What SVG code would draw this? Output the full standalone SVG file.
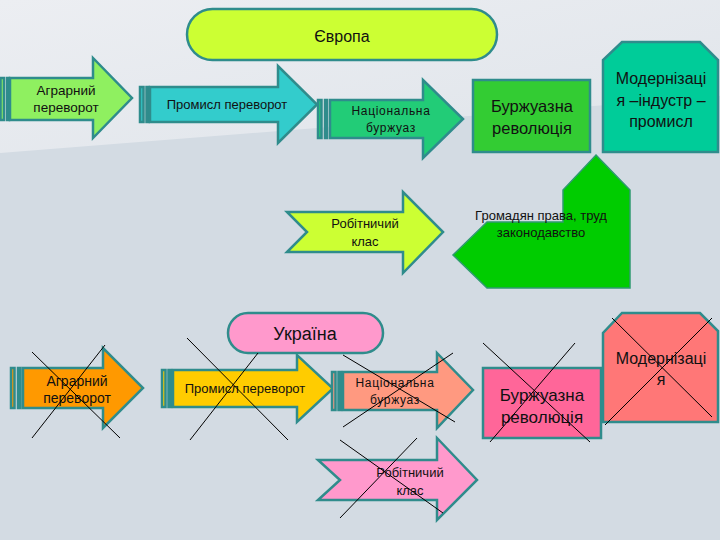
<svg xmlns="http://www.w3.org/2000/svg" width="720" height="540" viewBox="0 0 720 540">
<defs>
<linearGradient id="bgTop" x1="0" y1="0" x2="1" y2="1">
<stop offset="0" stop-color="#eceef2"/>
<stop offset="1" stop-color="#dfe4ea"/>
</linearGradient>
<style>
.sh{stroke:#2f8c8c;stroke-width:2.5;stroke-linejoin:miter}
.thin{stroke:#2f9a70;stroke-width:1.5}
.t{font-family:"Liberation Sans",Arial,sans-serif;fill:#111;text-anchor:middle}
.x line{stroke:#000;stroke-width:1}
</style>
</defs>
<rect x="0" y="0" width="720" height="540" fill="#d3dbe3"/>
<polygon points="0,0 720,0 720,96 0,153" fill="url(#bgTop)"/>

<g id="europe">
<rect class="sh" x="187" y="9" width="310" height="51" rx="25.5" fill="#ccff33"/>
<text class="t" x="342" y="42" font-size="16">Європа</text>
</g>

<g id="agr-eu">
<rect class="sh" x="0.5" y="78" width="3.5" height="42" fill="#8ff060"/>
<rect class="sh" x="7" y="78" width="2" height="42" fill="#8ff060"/>
<path class="sh" d="M10,78 H93 V58 L132,98 L93,138 V120 H10 Z" fill="#8ff060"/>
<text class="t" x="66" y="95" font-size="13.5">Аграрний</text>
<text class="t" x="66" y="112" font-size="13.5">переворот</text>
</g>

<g id="prom-eu">
<rect class="sh" x="140" y="87" width="3.5" height="35" fill="#33cccc"/>
<rect class="sh" x="146.5" y="87" width="2" height="35" fill="#33cccc"/>
<path class="sh" d="M150,87 H278 V66 L317,104.5 L278,143 V122 H150 Z" fill="#33cccc"/>
<text class="t" x="227" y="109" font-size="13">Промисл переворот</text>
</g>

<g id="nat-eu">
<rect class="sh" x="318" y="100" width="3.5" height="38" fill="#22cc77"/>
<rect class="sh" x="325" y="100" width="2" height="38" fill="#22cc77"/>
<path class="sh" d="M330,100 H423 V80 L463,119 L423,158 V138 H330 Z" fill="#22cc77"/>
<text class="t" x="391" y="115" font-size="12" letter-spacing="0.7">Національна</text>
<text class="t" x="391" y="132" font-size="12" letter-spacing="0.7">буржуаз</text>
</g>

<g id="burzh-eu">
<rect class="sh" x="473" y="80" width="117" height="72" fill="#33cc33"/>
<text class="t" x="532" y="112" font-size="16.5">Буржуазна</text>
<text class="t" x="532" y="134" font-size="16.5">революція</text>
</g>

<g id="modern-eu">
<path class="sh" d="M622,42 H700 L718,60 V152 H603 V60 Z" fill="#00cc99"/>
<text class="t" x="661" y="84" font-size="16">Модернізаці</text>
<text class="t" x="661" y="106" font-size="16">я –індустр –</text>
<text class="t" x="661" y="127" font-size="16">промисл</text>
</g>

<g id="rob-eu">
<path class="sh" d="M287,212 H403 V192 L443,232 L403,273 V252 H287 L307,232 Z" fill="#ccff33"/>
<text class="t" x="365" y="228" font-size="13">Робітничий</text>
<text class="t" x="365" y="246" font-size="13">клас</text>
</g>

<g id="rights-eu">
<path class="thin" d="M596,155 L630,190 V288 H487 L453,255 L487,222 H563 V190 Z" fill="#00cc00"/>
<text class="t" x="541" y="220" font-size="13">Громадян права, труд</text>
<text class="t" x="541" y="237" font-size="13">законодавство</text>
</g>

<g id="ukraine">
<rect class="sh" x="228" y="313" width="155" height="40" rx="20" fill="#ff99cc"/>
<text class="t" x="305" y="340" font-size="18">Україна</text>
</g>

<g id="agr-ua">
<rect class="sh" x="11" y="368" width="3.5" height="40" fill="#ff9900"/>
<rect class="sh" x="18" y="368" width="2.5" height="40" fill="#ff9900"/>
<path class="sh" d="M23,368 H103 V348 L143,388 L103,428 V408 H23 Z" fill="#ff9900"/>
<text class="t" x="77" y="386" font-size="14">Аграрний</text>
<text class="t" x="77" y="403" font-size="14">переворот</text>
</g>

<g id="prom-ua">
<rect class="sh" x="162" y="370" width="3.5" height="37" fill="#ffcc00"/>
<rect class="sh" x="168.5" y="370" width="2.5" height="37" fill="#ffcc00"/>
<path class="sh" d="M173,370 H297 V355 L333,388.5 L297,422 V407 H173 Z" fill="#ffcc00"/>
<text class="t" x="245" y="393" font-size="13">Промисл переворот</text>
</g>

<g id="nat-ua">
<rect class="sh" x="332" y="372" width="3.5" height="38" fill="#ff9980"/>
<rect class="sh" x="338.5" y="372" width="2.5" height="38" fill="#ff9980"/>
<path class="sh" d="M343,372 H437 V353 L473,390 L437,428 V410 H343 Z" fill="#ff9980"/>
<text class="t" x="395" y="387" font-size="12" letter-spacing="0.7">Національна</text>
<text class="t" x="395" y="404" font-size="12" letter-spacing="0.7">буржуаз</text>
</g>

<g id="burzh-ua">
<rect class="sh" x="483" y="368" width="118" height="70" fill="#ff6699"/>
<text class="t" x="542" y="401" font-size="17">Буржуазна</text>
<text class="t" x="542" y="423" font-size="17">революція</text>
</g>

<g id="modern-ua">
<path class="sh" d="M622,313 H700 L718,331 V422 H603 V333 Z" fill="#ff7777"/>
<text class="t" x="661" y="364" font-size="16">Модернізаці</text>
<text class="t" x="661" y="385" font-size="16">я</text>
</g>

<g id="rob-ua">
<path class="sh" d="M318,460 H437 V438 L477,480 L437,520 V500 H318 L340,480 Z" fill="#ff99cc"/>
<text class="t" x="410" y="477" font-size="13">Робітничий</text>
<text class="t" x="410" y="495" font-size="13">клас</text>
</g>

<g id="connectors" class="x">
<line x1="32" y1="352" x2="120" y2="438"/>
<line x1="105" y1="345" x2="32" y2="438"/>
<line x1="187" y1="338" x2="288" y2="440"/>
<line x1="258" y1="353" x2="190" y2="440"/>
<line x1="343" y1="355" x2="455" y2="422"/>
<line x1="453" y1="353" x2="343" y2="427"/>
<line x1="483" y1="343" x2="590" y2="442"/>
<line x1="575" y1="343" x2="490" y2="442"/>
<line x1="612" y1="318" x2="712" y2="417"/>
<line x1="712" y1="318" x2="605" y2="425"/>
<line x1="340" y1="440" x2="443" y2="513"/>
<line x1="417" y1="438" x2="340" y2="518"/>
</g>
</svg>
